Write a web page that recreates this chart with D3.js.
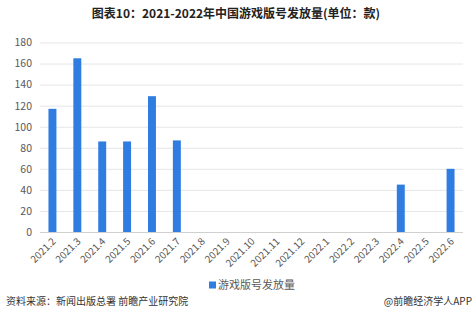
<!DOCTYPE html>
<html><head><meta charset="utf-8">
<script src="https://cdn.jsdelivr.net/npm/d3@7"></script>
<style>body{margin:0;background:#fff;}svg{display:block;}</style>
</head><body>
<script>
const categories = ["2021.2","2021.3","2021.4","2021.5","2021.6","2021.7","2021.8","2021.9","2021.10","2021.11","2021.12","2022.1","2022.2","2022.3","2022.4","2022.5","2022.6"];
const values = [117,165,86,86,129,87,0,0,0,0,0,0,0,0,45,0,60];
const yTicks = [0,20,40,60,80,100,120,140,160,180];
const seriesName = "游戏版号发放量";
const title = "图表10：2021-2022年中国游戏版号发放量(单位：款)";
const source = "资料来源：新闻出版总署 前瞻产业研究院";
const credit = "@前瞻经济学人APP";

const W=474,H=323;
const font="'Microsoft YaHei','Noto Sans CJK SC','Noto Sans',sans-serif";
const svg=d3.select("body").append("svg").attr("width",W).attr("height",H);
const m={l:40,r:11,t:42.5,b:91};
const x=d3.scaleBand().domain(categories).range([m.l,W-m.r]).paddingInner(0.68).paddingOuter(0.34);
const y=d3.scaleLinear().domain([0,180]).range([H-m.b,m.t]);

svg.append("text").attr("x",236).attr("y",18).attr("text-anchor","middle")
  .attr("font-family",font).attr("font-size",12).attr("font-weight","bold").attr("fill","#222").text(title);

const grid=svg.append("g");
grid.selectAll("line").data(yTicks).join("line")
  .attr("x1",m.l).attr("x2",W-m.r).attr("y1",d=>y(d)+0.5).attr("y2",d=>y(d)+0.5)
  .attr("stroke",d=>d===0?"#d0d0d0":"#e6e6e6").attr("stroke-width",1);

const yAxis=svg.append("g").attr("transform",`translate(${m.l},0)`)
  .call(d3.axisLeft(y).tickValues(yTicks).tickSize(0).tickPadding(8));
yAxis.select(".domain").remove();
yAxis.selectAll("text").attr("font-family",font).attr("font-size",10.5).attr("fill","#595959");

svg.append("g").selectAll("rect").data(values).join("rect")
  .attr("x",(d,i)=>x(categories[i])).attr("width",x.bandwidth())
  .attr("y",d=>y(d)).attr("height",d=>y(0)-y(d)).attr("fill","#2f7de1");

const xAxis=svg.append("g").attr("transform",`translate(0,${y(0)})`)
  .call(d3.axisBottom(x).tickSize(0).tickPadding(0));
xAxis.select(".domain").remove();
xAxis.selectAll("text").attr("font-family",font).attr("font-size",10).attr("fill","#595959")
  .attr("text-anchor","end").attr("dy",0)
  .attr("transform","translate(4,10) rotate(-45)");

const lg=svg.append("g").attr("transform","translate(209,285)");
lg.append("rect").attr("x",0).attr("y",-3.5).attr("width",7).attr("height",7).attr("fill","#2f7de1");
lg.append("text").attr("x",9).attr("y",4).attr("font-family",font).attr("font-size",11).attr("fill","#595959").text(seriesName);

svg.append("text").attr("x",6).attr("y",305).attr("font-family",font).attr("font-size",10).attr("fill","#333").text(source);
svg.append("text").attr("x",472).attr("y",305).attr("text-anchor","end").attr("font-family",font).attr("font-size",10).attr("fill","#333").text(credit);
</script>
</body></html>
